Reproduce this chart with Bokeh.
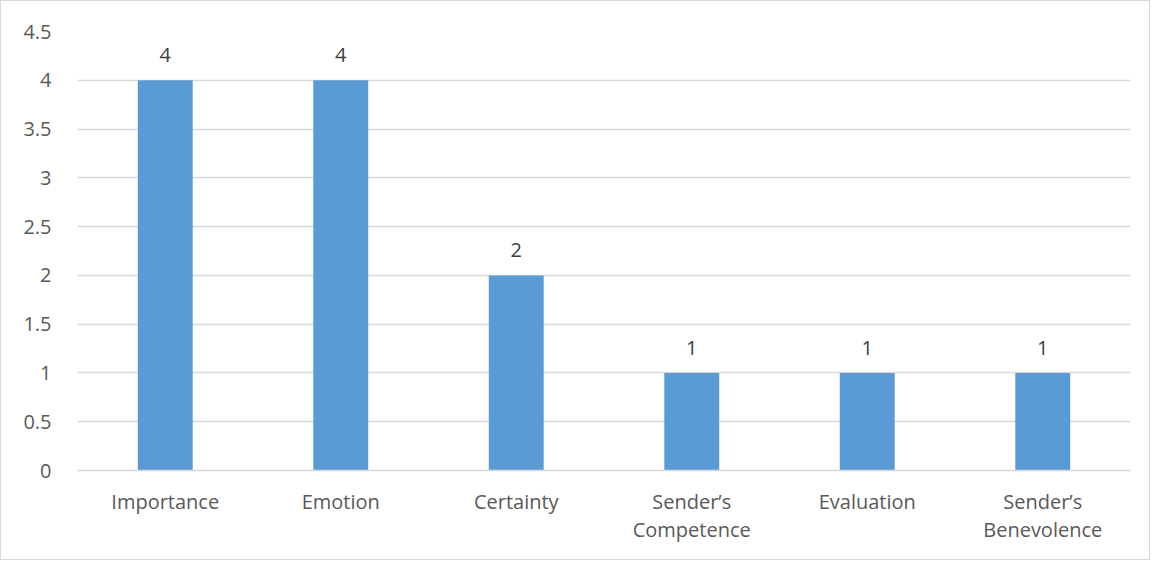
from bokeh.plotting import figure
from bokeh.models import ColumnDataSource, FixedTicker, CustomJSTickFormatter, LabelSet
from bokeh.core.properties import value
from bokeh.embed import file_html
from bokeh.resources import INLINE

categories = ["Importance", "Emotion", "Certainty", "Sender\u2019s\nCompetence", "Evaluation", "Sender\u2019s\nBenevolence"]
values = [4, 4, 2, 1, 1, 1]
value_labels = ["4", "4", "2", "1", "1", "1"]
y_ticks = [0, 0.5, 1, 1.5, 2, 2.5, 3, 3.5, 4, 4.5]

FONT = "Open Sans"
TXT = "#595959"
FS = "20px"

src = ColumnDataSource(dict(cat=categories, val=values, lab=value_labels))

p = figure(x_range=categories, y_range=(0, 4.5), width=1150, height=560,
           output_backend="svg", toolbar_location=None,
           min_border_left=76, min_border_right=21, min_border_top=30, min_border_bottom=91)
p.styles = {"border": "1px solid #d9d9d9"}
p.outline_line_color = None
p.background_fill_color = "white"
p.border_fill_color = "white"

p.vbar(x="cat", top="val", width=0.313, source=src, fill_color="#5b9bd5", line_color=None)

labels = LabelSet(x="cat", y="val", text="lab", source=src, text_align="center",
                  text_baseline="alphabetic", y_offset=18, text_font=value(FONT),
                  text_font_size=FS, text_color="#404040")
p.add_layout(labels)

p.yaxis.ticker = FixedTicker(ticks=y_ticks)
p.yaxis.formatter = CustomJSTickFormatter(code="return String(tick);")
p.yaxis.axis_line_color = None
p.yaxis.major_tick_line_color = None
p.yaxis.minor_tick_line_color = None
p.yaxis.major_label_text_font = FONT
p.yaxis.major_label_text_font_size = FS
p.yaxis.major_label_text_color = TXT
p.yaxis.major_label_standoff = 20

p.xaxis.axis_line_color = "#d9d9d9"
p.xaxis.axis_line_width = 1.5
p.xaxis.major_tick_line_color = None
p.xaxis.minor_tick_line_color = None
p.xaxis.major_label_text_font = FONT
p.xaxis.major_label_text_font_size = FS
p.xaxis.major_label_text_color = TXT
p.xaxis.major_label_text_line_height = 1.05
p.xaxis.major_label_standoff = 11

p.xgrid.grid_line_color = None
p.ygrid.grid_line_color = "#d9d9d9"
p.ygrid.grid_line_width = 1.5
p.ygrid.ticker = FixedTicker(ticks=y_ticks)

open("out.html", "w").write(file_html(p, INLINE))
